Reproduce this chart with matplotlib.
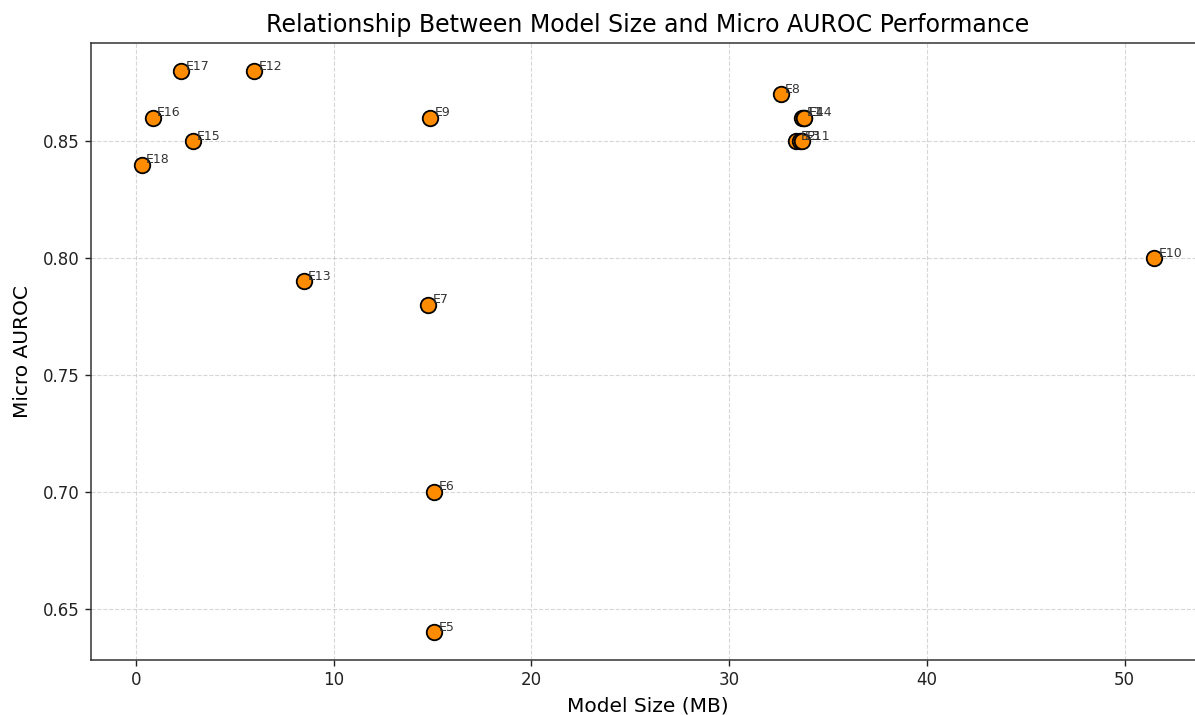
import matplotlib
matplotlib.use("Agg")
import matplotlib.pyplot as plt

# model labels, size (MB) and micro AUROC
models = ["E1", "E2", "E3", "E4", "E5", "E6", "E7", "E8", "E9",
          "E10", "E11", "E12", "E13", "E14", "E15", "E16", "E17", "E18"]
size_mb = [33.7, 33.4, 33.6, 33.8, 15.1, 15.1, 14.8, 32.6, 14.9,
           51.5, 33.7, 6.0, 8.5, 33.8, 2.9, 0.85, 2.3, 0.3]
auroc = [0.86, 0.85, 0.85, 0.86, 0.64, 0.70, 0.78, 0.87, 0.86,
         0.80, 0.85, 0.88, 0.79, 0.86, 0.85, 0.86, 0.88, 0.84]

fig = plt.figure(figsize=(11.95, 7.15), dpi=100)
ax = fig.add_axes([91 / 1195, 1 - 660 / 715, 1114 / 1195, 617 / 715])

ax.scatter(size_mb, auroc, s=125, color="darkorange", edgecolors="black",
           linewidths=1.3, zorder=3)
for name, x, y in zip(models, size_mb, auroc):
    ax.annotate(name, (x, y), xytext=(3, 1), textcoords="offset points",
                fontsize=9, color="#333333")

ax.set_title("Relationship Between Model Size and Micro AUROC Performance",
             fontsize=17, pad=8)
ax.set_xlabel("Model Size (MB)", fontsize=14.5, labelpad=5)
ax.set_ylabel("Micro AUROC", fontsize=14.5, labelpad=8)
ax.tick_params(labelsize=12, width=1, length=4.5, colors="#222222")
for sp in ax.spines.values():
    sp.set_linewidth(1.1)
    sp.set_color("#333333")
ax.grid(True, linestyle="--", alpha=0.5)

fig.savefig("out.png", dpi=100)
